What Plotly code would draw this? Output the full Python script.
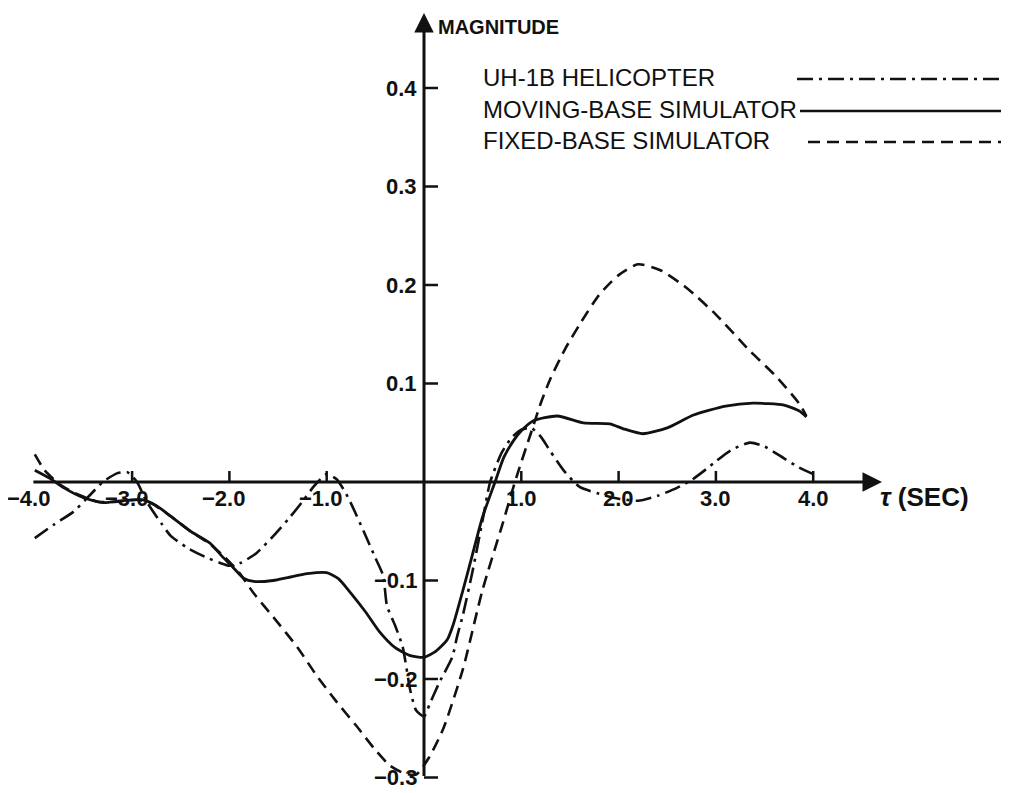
import plotly.graph_objects as go

# ---------------- data ----------------
heli_t = [-4.0, -3.8, -3.6, -3.45, -3.3, -3.15, -3.05, -2.95, -2.85, -2.7, -2.6, -2.43, -2.25, -2.1,
          -2.0, -1.88, -1.72, -1.55, -1.38, -1.25, -1.12, -1.0, -0.9, -0.8, -0.73, -0.62, -0.5, -0.42,
          -0.38, -0.3, -0.22, -0.14, -0.08, 0.0, 0.06, 0.16, 0.29, 0.34, 0.4, 0.5, 0.6, 0.68, 0.8, 0.9,
          1.0, 1.1, 1.2, 1.3, 1.45, 1.6, 1.8, 2.0, 2.2, 2.4, 2.6, 2.75, 2.9, 3.0, 3.15, 3.35, 3.5, 3.7,
          3.85, 4.0]
heli_v = [-0.057, -0.043, -0.03, -0.015, 0.0, 0.009, 0.01, 0.0, -0.02, -0.042, -0.055, -0.067, -0.076, -0.082,
          -0.085, -0.082, -0.072, -0.055, -0.036, -0.02, -0.003, 0.008, 0.003, -0.012, -0.026, -0.05, -0.077, -0.095,
          -0.126, -0.145, -0.167, -0.212, -0.232, -0.238, -0.225, -0.203, -0.178, -0.157, -0.135, -0.09, -0.04, 0.0, 0.03, 0.045,
          0.053, 0.055, 0.046, 0.031, 0.01, -0.005, -0.012, -0.017, -0.019, -0.014, -0.006, 0.002, 0.013, 0.021, 0.032, 0.040, 0.036, 0.024,
          0.015, 0.008]

moving_t = [-4.0, -3.85, -3.7, -3.5, -3.3, -3.1, -2.9, -2.75, -2.6, -2.4, -2.2, -2.08, -1.96, -1.85, -1.75,
            -1.55, -1.4, -1.2, -1.0, -0.88, -0.75, -0.6, -0.45, -0.3, -0.15, 0.0, 0.12, 0.24, 0.3, 0.4, 0.5,
            0.6, 0.73, 0.82, 0.92, 1.0, 1.12, 1.37, 1.64, 1.91, 2.05, 2.25, 2.5, 2.77, 3.1, 3.38, 3.7, 3.86, 3.93]
moving_v = [0.012, 0.004, -0.006, -0.016, -0.021, -0.019, -0.018, -0.024, -0.035, -0.05, -0.062, -0.075, -0.087, -0.098, -0.101,
            -0.1, -0.097, -0.093, -0.092, -0.098, -0.113, -0.132, -0.153, -0.168, -0.176, -0.178, -0.172, -0.16, -0.145, -0.11, -0.073,
            -0.036, 0.0, 0.025, 0.042, 0.052, 0.062, 0.067, 0.06, 0.059, 0.054, 0.049, 0.055, 0.068, 0.077, 0.080, 0.078, 0.072, 0.066]

fixed_t = [-4.0, -3.9, -3.75, -3.55, -3.35, -3.15, -2.95, -2.8, -2.6, -2.4, -2.2, -2.05, -1.9, -1.75, -1.55,
           -1.3, -1.1, -0.9, -0.7, -0.5, -0.35, -0.2, -0.08, 0.05, 0.2, 0.4, 0.6, 0.8, 0.95, 1.1, 1.2, 1.3,
           1.45, 1.6, 1.8, 2.0, 2.2, 2.43, 2.7, 3.0, 3.35, 3.63, 3.86, 3.93]
fixed_v = [0.028, 0.012, -0.002, -0.013, -0.02, -0.02, -0.018, -0.022, -0.035, -0.05, -0.063, -0.076, -0.092, -0.113, -0.137,
           -0.168, -0.197, -0.223, -0.247, -0.272, -0.288, -0.296, -0.297, -0.28, -0.25, -0.19, -0.11, -0.045, 0.005, 0.05, 0.08, 0.105,
           0.135, 0.16, 0.19, 0.21, 0.221, 0.215, 0.197, 0.17, 0.133, 0.106, 0.079, 0.067]

x_ticks = [-4.0, -3.0, -2.0, -1.0, 1.0, 2.0, 3.0, 4.0]
x_tick_labels = ["−4.0", "−3.0", "−2.0", "−1.0", "1.0", "2.0", "3.0", "4.0"]
y_ticks = [0.4, 0.3, 0.2, 0.1, -0.1, -0.2, -0.3]
y_tick_labels = ["0.4", "0.3", "0.2", "0.1", "−0.1", "−0.2", "−0.3"]

legend_names = ["UH-1B HELICOPTER", "MOVING-BASE SIMULATOR", "FIXED-BASE SIMULATOR"]

# ---------------- styling ----------------
INK = "#111111"
FONT = "Liberation Sans"
OFF = 8                      # page body margin
W, H = 1009 - OFF, 793 - OFF
PX_X = 97.3                  # pixels per second
PX_Y = 985.0                 # pixels per unit magnitude
X0_PX, Y0_PX = 424.0 - OFF, 482.0 - OFF
x_range = [-X0_PX / PX_X, (W - X0_PX) / PX_X]
y_range = [-(H - Y0_PX) / PX_Y, Y0_PX / PX_Y]


def px(xp):  # reference page x pixel -> paper fraction
    return (xp - OFF) / W


def py(yp):  # reference page y pixel -> paper fraction
    return 1 - (yp - OFF) / H


dash_heli = "16px,6px,3px,6px"
dash_fixed = "12px,7px"

fig = go.Figure()
fig.add_trace(go.Scatter(x=heli_t, y=heli_v, mode="lines", name=legend_names[0],
                         line=dict(color=INK, width=2.6, dash=dash_heli, shape="spline", smoothing=0.6)))
fig.add_trace(go.Scatter(x=moving_t, y=moving_v, mode="lines", name=legend_names[1],
                         line=dict(color=INK, width=2.8, shape="spline", smoothing=0.6)))
fig.add_trace(go.Scatter(x=fixed_t, y=fixed_v, mode="lines", name=legend_names[2],
                         line=dict(color=INK, width=2.6, dash=dash_fixed, shape="spline", smoothing=0.6)))

shapes = []
annotations = []

# axes with arrows
x_axis_end = (882 - 424) / PX_X
y_axis_top = (482 - 13) / PX_Y
annotations.append(dict(x=x_axis_end, y=0, ax=x_ticks[0] - 0.03, ay=0, xref="x", yref="y", axref="x", ayref="y",
                        text="", showarrow=True, arrowhead=2, arrowsize=1.3, arrowwidth=3, arrowcolor=INK))
annotations.append(dict(x=0, y=y_axis_top, ax=0, ay=y_ticks[-1], xref="x", yref="y", axref="x", ayref="y",
                        text="", showarrow=True, arrowhead=2, arrowsize=1.3, arrowwidth=3, arrowcolor=INK))

tick_font = dict(family=FONT, size=22, color=INK, weight="bold")

# x ticks (upward) and labels
for t, lab in zip(x_ticks, x_tick_labels):
    if t != x_ticks[0]:
        shapes.append(dict(type="line", xref="x", yref="y", x0=t, x1=t, y0=0, y1=11 / PX_Y,
                           line=dict(color=INK, width=2.5)))
    annotations.append(dict(x=t, y=0, xref="x", yref="y", text=lab, showarrow=False,
                            xanchor="center", yanchor="middle", yshift=-16, xshift=-6 if t < 0 else 0,
                            font=tick_font))

# y ticks (to the right) and labels
for v, lab in zip(y_ticks, y_tick_labels):
    shapes.append(dict(type="line", xref="x", yref="y", x0=0, x1=14 / PX_X, y0=v, y1=v,
                       line=dict(color=INK, width=2.5)))
    annotations.append(dict(x=0, y=v, xref="x", yref="y", text=lab, showarrow=False,
                            xanchor="right", yanchor="middle", xshift=-5,
                            font=tick_font))

# axis titles
annotations.append(dict(x=px(436), y=py(27), xref="paper", yref="paper", text="MAGNITUDE",
                        showarrow=False, xanchor="left", yanchor="middle",
                        font=dict(family=FONT, size=20, color=INK, weight="bold")))
annotations.append(dict(x=px(878), y=py(497), xref="paper", yref="paper", text="<i>τ</i> (SEC)",
                        showarrow=False, xanchor="left", yanchor="middle",
                        font=dict(family=FONT, size=26, color=INK, weight="bold")))

# legend block
rows_y = [78, 110, 141]
line_x0 = [797, 800, 808]
dashes = ["16px,6px,3px,6px", "solid", "12px,7px"]
for name, ry, lx, d in zip(legend_names, rows_y, line_x0, dashes):
    annotations.append(dict(x=px(481), y=py(ry), xref="paper", yref="paper", text=name,
                            showarrow=False, xanchor="left", yanchor="middle",
                            font=dict(family=FONT, size=24, color=INK)))
    shapes.append(dict(type="line", xref="paper", yref="paper", x0=px(lx), x1=px(1005),
                       y0=py(ry + 1), y1=py(ry + 1),
                       line=dict(color=INK, width=2.6, dash=d)))

fig.update_layout(
    width=W, height=H, autosize=False,
    margin=dict(l=0, r=0, t=0, b=0),
    paper_bgcolor="white", plot_bgcolor="white",
    showlegend=False,
    xaxis=dict(range=x_range, visible=False, fixedrange=True),
    yaxis=dict(range=y_range, visible=False, fixedrange=True),
    shapes=shapes, annotations=annotations,
)

fig.write_html("out.html")
